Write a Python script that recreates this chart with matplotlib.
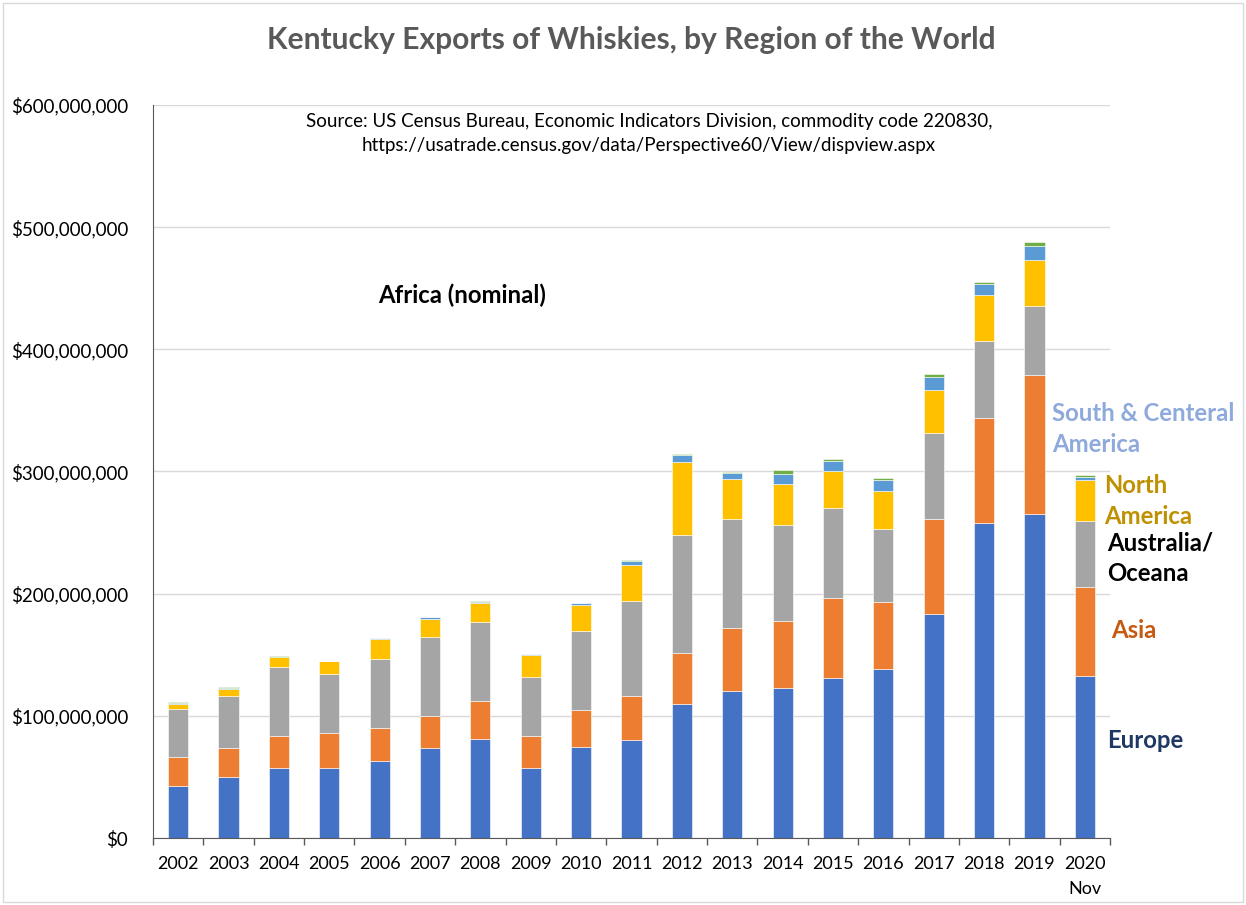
#!/usr/bin/env python3
# Kentucky whiskey exports by region, stacked bars ($ millions)
import numpy as np
import matplotlib
matplotlib.use('Agg')
import matplotlib.pyplot as plt
from matplotlib.patches import Rectangle
from matplotlib.ticker import FuncFormatter

plt.rcParams['font.family'] = ['Lato', 'DejaVu Sans']

#---------------------------- data ($ millions) ----------------------------#
years = ['2002', '2003', '2004', '2005', '2006', '2007', '2008', '2009', '2010',
         '2011', '2012', '2013', '2014', '2015', '2016', '2017', '2018', '2019',
         '2020\nNov']
europe = [42.8, 49.9, 57.6, 57.3, 63.3, 73.4, 80.8, 57.3, 74.7,
          80.2, 109.9, 120.3, 122.5, 130.7, 138.1, 183.0, 258.2, 265.0, 132.8]
asia = [23.7, 23.5, 26.1, 28.4, 26.7, 26.2, 31.6, 25.9, 30.3,
        36.3, 41.8, 51.8, 54.9, 65.5, 55.3, 77.8, 85.2, 114.3, 72.9]
oceania = [39.1, 43.1, 56.0, 48.3, 56.3, 64.9, 64.7, 48.3, 64.2,
           77.7, 96.3, 89.0, 79.1, 73.9, 59.8, 70.9, 63.1, 56.1, 53.5]
north_am = [4.3, 5.7, 8.5, 10.6, 16.6, 14.8, 15.0, 18.0, 21.5,
            29.5, 60.0, 32.8, 33.0, 30.3, 31.1, 35.3, 37.9, 37.9, 33.6]
south_am = [0.5, 0.5, 0.2, 0.4, 0.6, 1.3, 1.1, 0.9, 1.4,
            2.8, 5.8, 5.1, 8.2, 8.5, 9.0, 10.4, 9.1, 11.6, 3.0]
africa = [0.7, 0.9, 0.3, 0.2, 0.2, 0.3, 0.5, 0.4, 0.5,
          0.8, 0.5, 0.8, 3.5, 1.3, 1.1, 2.6, 1.3, 3.3, 1.3]

series = [europe, asia, oceania, north_am, south_am, africa]
colors = ['#4472C4', '#ED7D31', '#A5A5A5', '#FFC000', '#5B9BD5', '#70AD47']

W, H = 1246, 905
fig = plt.figure(figsize=(W / 100, H / 100), dpi=100)
ax = fig.add_axes([153 / W, 1 - 838 / H, (1110 - 153) / W, (838 - 105) / H])

x = np.arange(len(years))
bottom = np.zeros(len(years))
for vals, col in zip(series, colors):
    v = np.array(vals) * 1e6
    ax.bar(x, v, width=0.4, bottom=bottom, color=col, edgecolor='white',
           linewidth=0.4, zorder=3)
    bottom += v

ax.set_xlim(-0.5, len(years) - 0.5)
ax.set_ylim(0, 600e6)
ax.set_yticks(np.arange(0, 600e6 + 1, 100e6))
ax.yaxis.set_major_formatter(FuncFormatter(lambda v, p: '${:,.0f}'.format(v)))
ax.grid(axis='y', color='#D9D9D9', linewidth=1, zorder=0)
ax.set_xticks(x)
ax.set_xticklabels(years, linespacing=1.7)
ax.set_xticks(np.arange(-0.5, len(years)), minor=True)
ax.tick_params(axis='x', which='major', length=0, pad=13, labelsize=13, colors='black')
ax.tick_params(axis='x', which='minor', length=5, width=1, color='#595959')
ax.tick_params(axis='y', length=0, pad=18, labelsize=13.5, colors='black')
for t in ax.get_xticklabels():
    t.set_verticalalignment('top')
for s in ['top', 'right']:
    ax.spines[s].set_visible(False)
ax.spines['left'].set_color('#595959')
ax.spines['bottom'].set_color('#595959')
ax.spines['left'].set_zorder(4)
ax.spines['bottom'].set_zorder(4)

def ft(px, py, s, **kw):
    fig.text(px / W, 1 - py / H, s, **kw)

lab = dict(ha='left', va='center', fontsize=17.2, fontweight='bold', linespacing=1.4)
ft(631, 40, 'Kentucky Exports of Whiskies, by Region of the World',
   ha='center', va='center', fontsize=21.6, fontweight='bold', color='#595959')
ft(649, 122, 'Source: US Census Bureau, Economic Indicators Division, commodity code 220830,',
   ha='center', va='center', fontsize=13.5, color='black')
ft(649, 146, 'https://usatrade.census.gov/data/Perspective60/View/dispview.aspx',
   ha='center', va='center', fontsize=13.5, color='black')
ft(378, 295, 'Africa (nominal)', color='black', **lab)
ft(1052, 429, 'South & Centeral\nAmerica', color='#8EA9DB', **lab)
ft(1104, 501, 'North\nAmerica', color='#BF9000', **lab)
ft(1107, 558, 'Australia/\nOceana', color='black', **lab)
ft(1111, 630, 'Asia', color='#C55A11', **lab)
ft(1107, 740, 'Europe', color='#203864', **lab)

fig.patches.append(Rectangle((3 / W, 3 / H), 1 - 6 / W, 1 - 6 / H,
                             transform=fig.transFigure, fill=False,
                             edgecolor='#D9D9D9', linewidth=1))

fig.savefig('out.png', dpi=100)
